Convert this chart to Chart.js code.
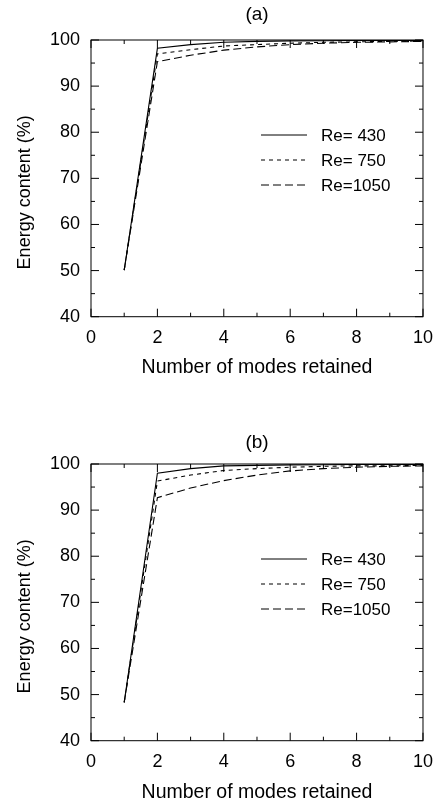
<!DOCTYPE html>
<html>
<head>
<meta charset="utf-8">
<script src="https://cdn.jsdelivr.net/npm/chart.js@4.4.0/dist/chart.umd.min.js"></script>
<style>
  html, body { margin: 0; padding: 0; background: #fff; overflow: hidden; }
  .panel { position: absolute; left: 0; width: 444px; }
</style>
</head>
<body>
<div class="panel" style="top:0;height:400px"><canvas id="chartA"></canvas></div>
<div class="panel" style="top:400px;height:406px"><canvas id="chartB"></canvas></div>
<script>
// Number of modes retained
const modes = [1, 2, 3, 4, 5, 6, 7, 8, 9, 10];
const xTicks = [0, 2, 4, 6, 8, 10];
const yTicks = [40, 50, 60, 70, 80, 90, 100];
const seriesLabels = ['Re= 430', 'Re= 750', 'Re=1050'];

// (a)
const a430  = [50.1, 98.2, 99.0, 99.5, 99.7, 99.8, 99.85, 99.9, 99.9, 99.9];
const a750  = [50.1, 97.0, 97.9, 98.7, 99.0, 99.3, 99.5, 99.6, 99.7, 99.8];
const a1050 = [50.1, 95.3, 96.7, 97.8, 98.5, 99.0, 99.3, 99.5, 99.6, 99.7];

// (b)
const b430  = [48.3, 98.0, 99.0, 99.6, 99.7, 99.8, 99.85, 99.9, 99.9, 99.9];
const b750  = [48.3, 96.3, 97.6, 98.6, 99.0, 99.3, 99.5, 99.6, 99.6, 99.7];
const b1050 = [48.3, 92.7, 94.8, 96.4, 97.6, 98.5, 99.0, 99.3, 99.5, 99.6];

const FONT = "'Liberation Sans', Arial, Helvetica, sans-serif";
const dashes = [[], [4, 4], [8, 4]];

// cadre + graduations intérieures, légende, titres
const framePlugin = {
  id: 'frame',
  afterDraw(chart, args, opts) {
    const { ctx, chartArea: ca, scales: { x, y } } = chart;
    ctx.save();
    ctx.strokeStyle = '#000';
    ctx.lineWidth = 1;
    ctx.strokeRect(ca.left, ca.top, ca.width, ca.height);

    ctx.beginPath();
    xTicks.forEach((v, i) => {
      const px = x.getPixelForValue(v);
      ctx.moveTo(px, ca.bottom); ctx.lineTo(px, ca.bottom - 8);
      ctx.moveTo(px, ca.top); ctx.lineTo(px, ca.top + 8);
      if (i < xTicks.length - 1) {
        const m = x.getPixelForValue((v + xTicks[i + 1]) / 2);
        ctx.moveTo(m, ca.bottom); ctx.lineTo(m, ca.bottom - 4);
        ctx.moveTo(m, ca.top); ctx.lineTo(m, ca.top + 4);
      }
    });
    yTicks.forEach((v, i) => {
      const py = y.getPixelForValue(v);
      ctx.moveTo(ca.left, py); ctx.lineTo(ca.left + 8, py);
      ctx.moveTo(ca.right, py); ctx.lineTo(ca.right - 8, py);
      if (i < yTicks.length - 1) {
        const m = y.getPixelForValue((v + yTicks[i + 1]) / 2);
        ctx.moveTo(ca.left, m); ctx.lineTo(ca.left + 4, m);
        ctx.moveTo(ca.right, m); ctx.lineTo(ca.right - 4, m);
      }
    });
    ctx.stroke();

    // titre du panneau
    ctx.fillStyle = '#000';
    ctx.font = '19px ' + FONT;
    ctx.textAlign = 'center';
    ctx.textBaseline = 'middle';
    ctx.fillText(opts.label, (ca.left + ca.right) / 2, ca.top - opts.labelGap);

    // titre axe y
    ctx.save();
    ctx.translate(25, (ca.top + ca.bottom) / 2 + 14);
    ctx.rotate(-Math.PI / 2);
    ctx.font = '18px ' + FONT;
    ctx.fillText('Energy content (%)', 0, 0);
    ctx.restore();

    // légende
    ctx.font = '17px ' + FONT;
    ctx.textAlign = 'left';
    chart.data.datasets.forEach((ds, i) => {
      const ly = ca.top + 95 + i * 25;
      ctx.beginPath();
      ctx.setLineDash(ds.borderDash || []);
      ctx.moveTo(ca.left + 170, ly);
      ctx.lineTo(ca.left + 216, ly);
      ctx.stroke();
      ctx.setLineDash([]);
      ctx.fillText(ds.label, ca.left + 230, ly + 1);
    });
    ctx.restore();
  }
};

function makePanel(id, label, series, topPad, labelGap, xHeight, titlePad) {
  new Chart(document.getElementById(id), {
    type: 'line',
    data: {
      datasets: series.map((vals, i) => ({
        label: seriesLabels[i],
        data: modes.map((m, k) => ({ x: m, y: vals[k] })),
        borderColor: '#000',
        borderWidth: 1.1,
        borderDash: dashes[i],
        pointRadius: 0,
        tension: 0,
        fill: false
      }))
    },
    options: {
      responsive: true,
      maintainAspectRatio: false,
      animation: false,
      layout: { padding: { top: topPad, right: 14, left: 0, bottom: 0 } },
      plugins: {
        legend: { display: false },
        tooltip: { enabled: false },
        frame: { label: label, labelGap: labelGap }
      },
      scales: {
        x: {
          type: 'linear',
          min: 0,
          max: 10,
          grid: { display: false, drawTicks: false },
          border: { display: false },
          ticks: { stepSize: 2, color: '#000', padding: 11, font: { family: FONT, size: 18 } },
          title: {
            display: true,
            text: 'Number of modes retained',
            color: '#000',
            font: { family: FONT, size: 19.5 },
            padding: { top: 0, bottom: titlePad }
          },
          afterFit(s) { s.height = xHeight; }
        },
        y: {
          min: 40,
          max: 100,
          grid: { display: false, drawTicks: false },
          border: { display: false },
          ticks: { stepSize: 10, color: '#000', padding: 11, font: { family: FONT, size: 18 } },
          afterFit(s) { s.width = 91; }
        }
      }
    },
    plugins: [framePlugin]
  });
}

makePanel('chartA', '(a)', [a430, a750, a1050], 40, 25, 83.3, 20.6);
makePanel('chartB', '(b)', [b430, b750, b1050], 64, 21, 65.3, 1.6);
</script>
</body>
</html>
